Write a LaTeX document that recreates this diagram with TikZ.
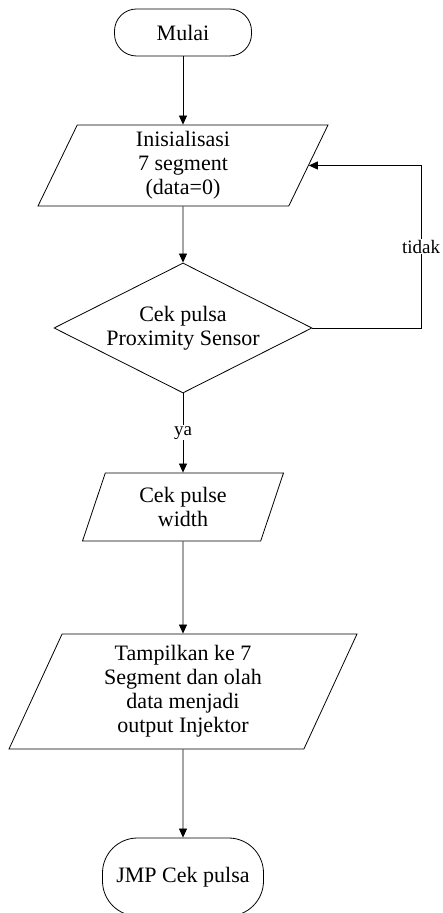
\documentclass[tikz,border=0pt]{standalone}
\usepackage{fontspec}
\setmainfont{Liberation Serif}
\usetikzlibrary{arrows.meta,shapes.geometric,positioning}

\begin{document}
\begin{tikzpicture}[x=1pt, y=1pt, line width=0.8pt,
    txt/.style={font=\fontsize{22}{24}\selectfont, align=center},
    lbl/.style={font=\fontsize{19}{21}\selectfont, fill=white, inner sep=1pt},
    term/.style={txt, draw, rounded corners=22pt},
    io/.style={txt, draw, trapezium, trapezium left angle=60, trapezium right angle=120, trapezium stretches body, inner sep=0pt},
    decision/.style={txt, draw, diamond, aspect=2, inner sep=0pt, minimum width=258pt, minimum height=130pt},
    flow/.style={-{Triangle[length=9pt,width=8pt]}}]
    \useasboundingbox (0,0) rectangle (442,913);

    % Blocks
    \node[term, minimum width=137pt, minimum height=47pt] (mulai) at (183, 880.5) {Mulai};
    \node[io, minimum width=290pt, minimum height=81pt] (init) at (183, 747.5) {Inisialisasi\\ 7 segment\\ (data=0)};
    \node[decision] (cek) at (183, 585) {Cek pulsa\\ Proximity Sensor};
    \node[io, minimum width=201pt, minimum height=68pt] (pw) at (183, 406) {Cek pulse\\ width};
    \node[io, minimum width=348pt, minimum height=115pt] (show) at (183, 221.5) {Tampilkan ke 7\\ Segment dan olah\\ data menjadi\\ output Injektor};
    \node[term, minimum width=161pt, minimum height=78pt, rounded corners=35pt] (jmp) at (183, 36) {JMP Cek pulsa};

    % Flow lines
    \draw[flow] (mulai) -- (init);
    \draw[flow] (init) -- (cek);
    \coordinate (balik) at (421, 585);
    \draw[flow] (cek.east) -- (balik) |- node[lbl, pos=0.25] {tidak} (init.east);
    \draw[flow] (cek) -- node[lbl] {ya} (pw);
    \draw[flow] (pw) -- (show);
    \draw[flow] (show) -- (jmp);
\end{tikzpicture}
\end{document}
